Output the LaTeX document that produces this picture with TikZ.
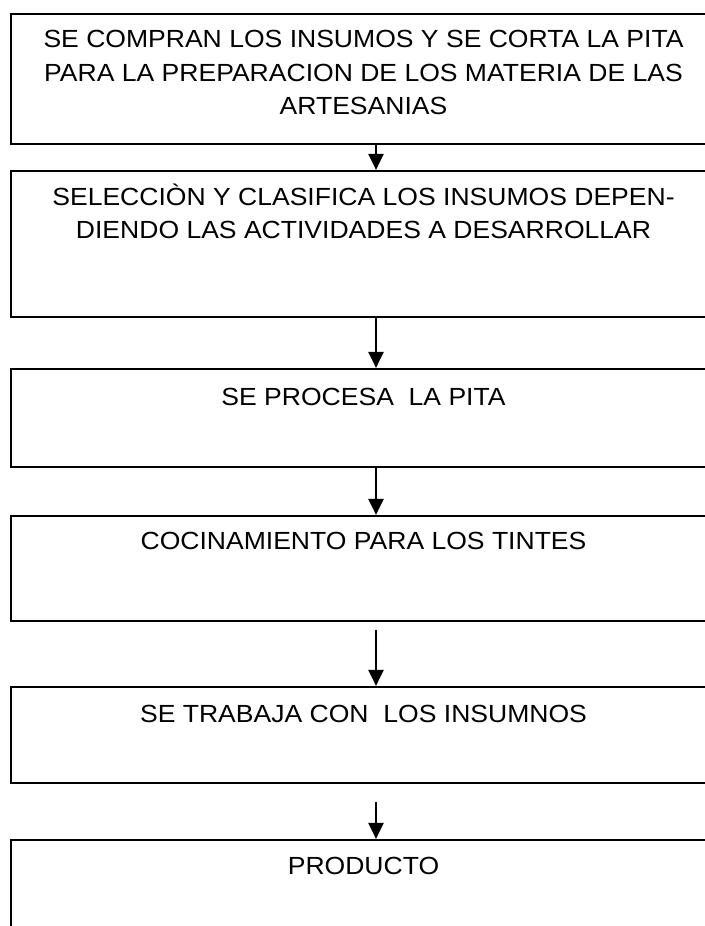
\documentclass[tikz,border=0pt]{standalone}
\usepackage{fontspec}
\setmainfont{Liberation Sans}[FakeStretch=1.07]
\usetikzlibrary{positioning, arrows.meta}

\begin{document}
\begin{tikzpicture}[
        x=1pt, y=-1pt,
        box/.style={
          draw=black,
          line width=2.2pt,
          minimum width=705pt,
          inner sep=0pt
        },
        txt/.style={
          anchor=base,
          align=center,
          inner sep=0pt,
          font=\fontsize{24.8}{33.5}\selectfont
        },
        arr/.style={
          -{Triangle[width=15pt,length=16pt]},
          line width=2.2pt
        }
      ]
        \useasboundingbox (0,0) rectangle (704,926);

        % base of a text block sits on its last line
        \node[box,minimum height=130pt] (b1) at (363.5,79) {};
        \node[txt] (t1) at ([yshift=-102pt]b1.north) {SE COMPRAN LOS INSUMOS Y SE CORTA LA PITA\\PARA LA PREPARACION DE LOS MATERIA DE LAS\\ARTESANIAS};

        \node[box,minimum height=146pt] (b2) at (363.5,244) {};
        \node[txt] (t2) at ([yshift=-69pt]b2.north) {SELECCIÒN Y CLASIFICA LOS INSUMOS DEPEN-\\DIENDO LAS ACTIVIDADES A DESARROLLAR};

        \node[box,minimum height=98pt] (b3) at (363.5,418) {};
        \node[txt] (t3) at ([yshift=-38pt]b3.north) {SE PROCESA~~LA PITA};

        \node[box,minimum height=105pt] (b4) at (363.5,568.5) {};
        \node[txt] (t4) at ([yshift=-35pt]b4.north) {COCINAMIENTO PARA LOS TINTES};

        \node[box,minimum height=96pt] (b5) at (363.5,735) {};
        \node[txt] (t5) at ([yshift=-37pt]b5.north) {SE TRABAJA CON~~LOS INSUMNOS};

        \node[box,minimum height=140pt] (b6) at (363.5,910) {};
        \node[txt] (t6) at ([yshift=-36pt]b6.north) {PRODUCTO};

        \draw[arr] ([xshift=12.5pt]b1.south) -- ([xshift=12.5pt]b2.north);
        \draw[arr] ([xshift=12.5pt]b2.south) -- ([xshift=12.5pt]b3.north);
        \draw[arr] ([xshift=12.5pt]b3.south) -- ([xshift=12.5pt]b4.north);
        \draw[arr,shorten <=8pt] ([xshift=12.5pt]b4.south) -- ([xshift=12.5pt]b5.north);
        \draw[arr,shorten <=18pt] ([xshift=12.5pt]b5.south) -- ([xshift=12.5pt]b6.north);
      \end{tikzpicture}
\end{document}
